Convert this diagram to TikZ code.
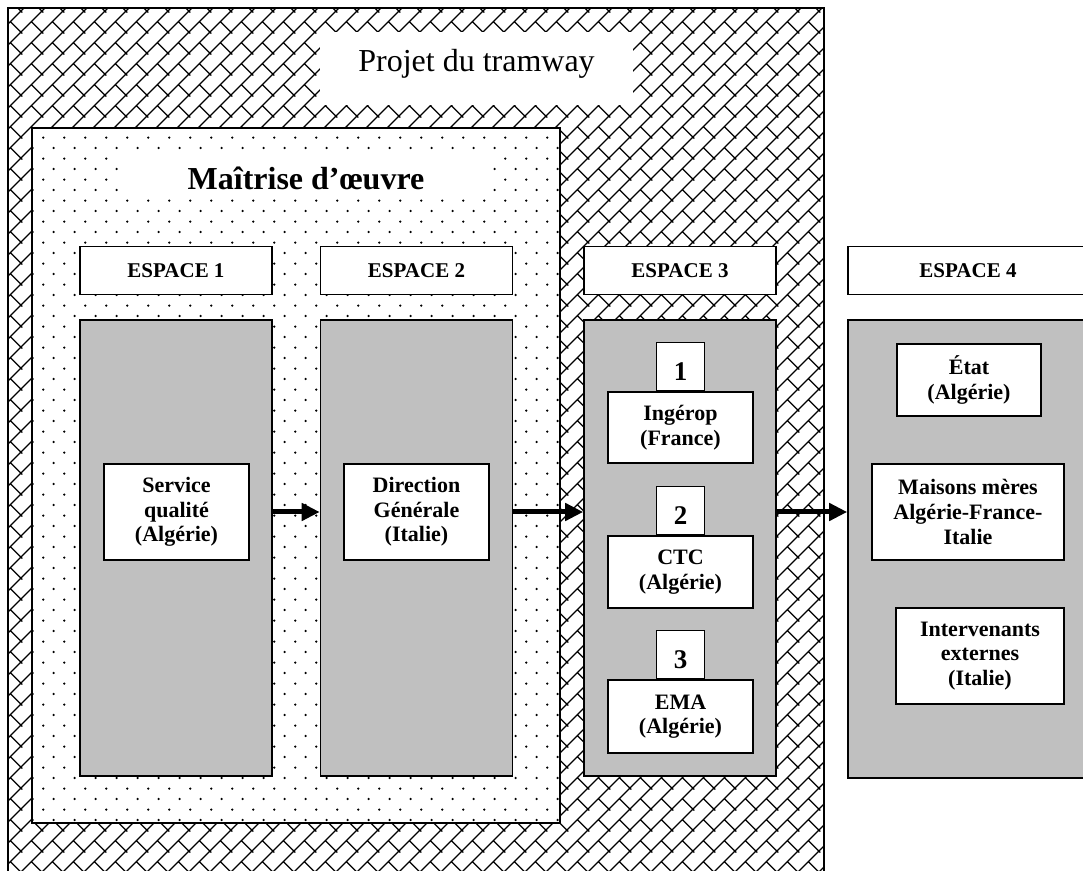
\documentclass[tikz,border=0pt]{standalone}
\usepackage{fontspec}
\setmainfont{Liberation Serif}
\usetikzlibrary{positioning, arrows.meta, patterns}

\definecolor{espacegray}{RGB}{192,192,192}

% diagonal brick fill of the outer frame
\pgfdeclarepatternformonly{brick}{\pgfqpoint{0pt}{0pt}}{\pgfqpoint{10.667pt}{10.667pt}}{\pgfqpoint{10.667pt}{10.667pt}}{
  \pgfsetlinewidth{0.6pt}
  \pgfpathmoveto{\pgfqpoint{-0.667pt}{-0.667pt}}\pgfpathlineto{\pgfqpoint{11.333pt}{11.333pt}}
  \pgfpathmoveto{\pgfqpoint{-0.667pt}{10pt}}\pgfpathlineto{\pgfqpoint{0.667pt}{11.333pt}}
  \pgfpathmoveto{\pgfqpoint{10pt}{-0.667pt}}\pgfpathlineto{\pgfqpoint{11.333pt}{0.667pt}}
  \pgfpathmoveto{\pgfqpoint{5.2pt}{5.467pt}}\pgfpathlineto{\pgfqpoint{11.333pt}{-0.667pt}}
  \pgfpathmoveto{\pgfqpoint{-0.667pt}{0.667pt}}\pgfpathlineto{\pgfqpoint{0.667pt}{-0.667pt}}
  \pgfpathmoveto{\pgfqpoint{10pt}{11.333pt}}\pgfpathlineto{\pgfqpoint{11.333pt}{10pt}}
  \pgfpathmoveto{\pgfqpoint{-0.667pt}{11.333pt}}\pgfpathlineto{\pgfqpoint{0.667pt}{10pt}}
  \pgfusepath{stroke}
}

% sparse dots of the inner frame
\pgfdeclarepatternformonly{pointille}{\pgfqpoint{0pt}{0pt}}{\pgfqpoint{10.667pt}{10.667pt}}{\pgfqpoint{10.667pt}{10.667pt}}{
  \pgfpathcircle{\pgfqpoint{0.667pt}{10pt}}{0.65pt}
  \pgfpathcircle{\pgfqpoint{6pt}{4.667pt}}{0.65pt}
  \pgfusepath{fill}
}

\begin{document}
\begin{tikzpicture}[x=0.5pt, y=-0.5pt,
    frame/.style={draw, line width=0.8pt},
    espace/.style={draw, line width=0.8pt, fill=white, minimum width=96pt, minimum height=24pt, inner sep=0pt, font=\bfseries\fontsize{10.5}{12}\selectfont},
    column/.style={draw, line width=0.8pt, fill=espacegray, minimum width=96pt, minimum height=228pt, inner sep=0pt},
    actor/.style={draw, line width=0.8pt, fill=white, align=center, inner sep=0pt, minimum width=72.5pt, minimum height=36pt, font=\bfseries\fontsize{11}{12.3}\selectfont},
    rang/.style={draw, line width=0.8pt, fill=white, minimum width=24pt, minimum height=24pt, inner sep=0pt, text height=14.6pt, text depth=0pt, font=\bfseries\fontsize{13.5}{14}\selectfont},
    flow/.style={-{Triangle[length=9pt,width=8.5pt]}, line width=2.5pt}]
    \useasboundingbox (0,0) rectangle (1083,871);
    \clip (0,0) rectangle (1083,871);

    % Frames
    \draw[frame, preaction={fill=white}, pattern=brick] (8,8) rectangle (824,890);
    \node (projet) [fill=white, minimum width=156.5pt, minimum height=36.5pt, text height=10pt, text depth=6.5pt, font=\fontsize{16}{19}\selectfont] at (476.5,68.5) {Projet du tramway};
    \draw[frame, preaction={fill=white}, pattern=pointille] (32,128) rectangle (560,823);
    \node (moe) [fill=white, minimum width=184pt, minimum height=23pt, text height=15pt, text depth=0pt, font=\bfseries\fontsize{16}{19}\selectfont] at (306,175) {Maîtrise d’œuvre};

    % Columns
    \node (c1) [column] at (176,548) {};
    \node (c2) [column] at (416.5,548) {};
    \node (c3) [column] at (680,548) {};
    \node (c4) [column, minimum width=120pt, minimum height=229pt] at (968,549) {};
    \node (e1) [espace, above=12pt of c1] {ESPACE 1};
    \node (e2) [espace, above=12pt of c2] {ESPACE 2};
    \node (e3) [espace, above=12pt of c3] {ESPACE 3};
    \node (e4) [espace, above=12pt of c4.north, anchor=south, minimum width=120pt] {ESPACE 4};

    % Nodes
    \node (service) [actor, minimum height=48pt] at (176.5,512) {Service\\qualité\\(Algérie)};
    \node (direction) [actor, minimum height=48pt] at (416.5,512) {Direction\\Générale\\(Italie)};
    \node (ingerop) [actor, minimum height=35.5pt] at (680.5,427.5) {Ingérop\\(France)};
    \node (ctc) [actor] at (680.5,572) {CTC\\(Algérie)};
    \node (ema) [actor, minimum height=36.5pt] at (680.5,716.5) {EMA\\(Algérie)};
    \node (n1) [rang, above=0pt of ingerop] {1};
    \node (n2) [rang, above=0pt of ctc] {2};
    \node (n3) [rang, above=0pt of ema] {3};
    \node (etat) [actor, minimum width=72pt] at (969,380) {État\\(Algérie)};
    \node (maisons) [actor, minimum width=96pt, minimum height=48pt] at (968,512) {Maisons mères\\Algérie-France-\\Italie};
    \node (intervenants) [actor, minimum width=84pt, minimum height=48pt] at (980,656) {Intervenants\\externes\\(Italie)};

    % Edges
    \draw[flow] (service -| c1.east) -- (service -| c2.west);
    \draw[flow] (direction -| c2.east) -- (direction -| c3.west);
    \draw[flow] (maisons -| c3.east) -- (maisons -| c4.west);
\end{tikzpicture}
\end{document}
